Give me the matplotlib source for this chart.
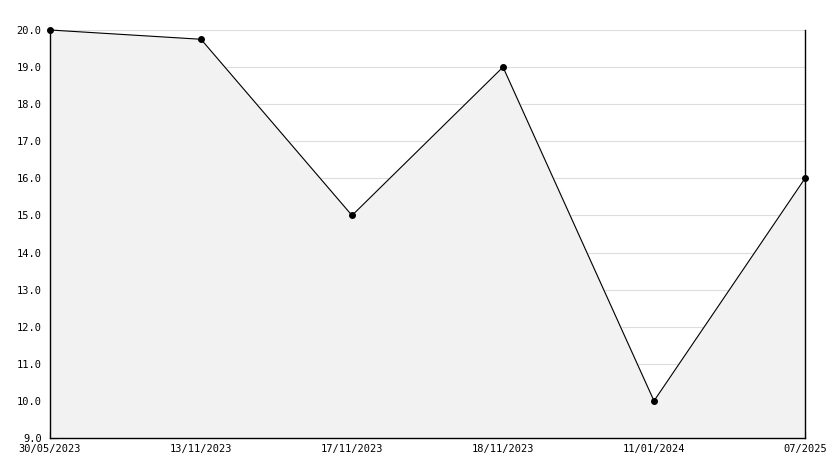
import matplotlib
matplotlib.use("Agg")
import matplotlib.pyplot as plt
from matplotlib.ticker import MultipleLocator

dates = ["30/05/2023", "13/11/2023", "17/11/2023", "18/11/2023", "11/01/2024", "07/2025"]
values = [20.0, 19.75, 15.0, 19.0, 10.0, 16.0]

fig = plt.figure(figsize=(8.34, 4.68), dpi=100)
ax = fig.add_axes([50/834, 30/468, 755/834, 408/468])
x = list(range(len(dates)))
ax.fill_between(x, values, 9.0, color="#f2f2f2", zorder=1)
ax.plot(x, values, color="black", lw=0.8, zorder=3, clip_on=False)
ax.plot(x, values, "o", color="black", ms=4, zorder=4, clip_on=False)

ax.set_xlim(0, len(dates) - 1)
ax.set_ylim(9.0, 20.0)
ax.yaxis.set_major_locator(MultipleLocator(1.0))
ax.yaxis.set_minor_locator(MultipleLocator(0.5))
ax.set_yticklabels([f"{v:.1f}" for v in ax.get_yticks()])
ax.set_xticks(x)
ax.set_xticklabels(dates)
ax.grid(axis="y", which="major", color="#dddddd", lw=0.8, zorder=0)
ax.set_axisbelow(True)

ax.spines["top"].set_visible(False)
for s in ["left", "bottom", "right"]:
    ax.spines[s].set_color("black")
    ax.spines[s].set_linewidth(1.0)

ax.tick_params(axis="both", which="both", direction="in", color="black", labelsize=7.5)
ax.tick_params(axis="y", which="major", length=5, pad=6)
ax.tick_params(axis="y", which="minor", length=5)
ax.tick_params(axis="x", length=5, pad=4)
for lbl in ax.get_xticklabels() + ax.get_yticklabels():
    lbl.set_family("DejaVu Sans Mono")

fig.savefig("out.png", dpi=100)
